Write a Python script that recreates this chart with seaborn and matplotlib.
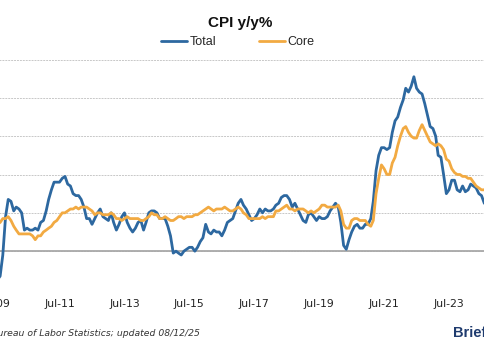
import pandas as pd
import matplotlib
matplotlib.use("Agg")
import matplotlib.pyplot as plt
import matplotlib.dates as mdates
from matplotlib.lines import Line2D
import seaborn as sns

# monthly CPI y/y %, Jul-2009 .. Jul-2025
start_month = "2009-07-01"
total = [
    -2.1, -1.5, -1.3, -0.2, 1.8, 2.7,                                   # 2009 H2
    2.6, 2.1, 2.3, 2.2, 2.0, 1.1, 1.2, 1.1, 1.1, 1.2, 1.1, 1.5,         # 2010
    1.6, 2.1, 2.7, 3.2, 3.6, 3.6, 3.6, 3.8, 3.9, 3.5, 3.4, 3.0,         # 2011
    2.9, 2.9, 2.7, 2.3, 1.7, 1.7, 1.4, 1.7, 2.0, 2.2, 1.8, 1.7,         # 2012
    1.6, 2.0, 1.5, 1.1, 1.4, 1.8, 2.0, 1.5, 1.2, 1.0, 1.2, 1.5,         # 2013
    1.6, 1.1, 1.5, 2.0, 2.1, 2.1, 2.0, 1.7, 1.7, 1.7, 1.3, 0.8,         # 2014
    -0.1, 0.0, -0.1, -0.2, 0.0, 0.1, 0.2, 0.2, 0.0, 0.2, 0.5, 0.7,      # 2015
    1.4, 1.0, 0.9, 1.1, 1.0, 1.0, 0.8, 1.1, 1.5, 1.6, 1.7, 2.1,         # 2016
    2.5, 2.7, 2.4, 2.2, 1.9, 1.6, 1.7, 1.9, 2.2, 2.0, 2.2, 2.1,         # 2017
    2.1, 2.2, 2.4, 2.5, 2.8, 2.9, 2.9, 2.7, 2.3, 2.5, 2.2, 1.9,         # 2018
    1.6, 1.5, 1.9, 2.0, 1.8, 1.6, 1.8, 1.7, 1.7, 1.8, 2.1, 2.3,         # 2019
    2.5, 2.3, 1.5, 0.3, 0.1, 0.6, 1.0, 1.3, 1.4, 1.2, 1.2, 1.4,         # 2020
    1.4, 1.7, 2.6, 4.2, 5.0, 5.4, 5.4, 5.3, 5.4, 6.2, 6.8, 7.0,         # 2021
    7.5, 7.9, 8.5, 8.3, 8.6, 9.1, 8.5, 8.3, 8.2, 7.7, 7.1, 6.5,         # 2022
    6.4, 6.0, 5.0, 4.9, 4.0, 3.0, 3.2, 3.7, 3.7, 3.2, 3.1, 3.4,         # 2023
    3.1, 3.2, 3.5, 3.4, 3.3, 3.0, 2.9, 2.5, 2.4, 2.6, 2.7, 2.9,         # 2024
    3.0, 2.8, 2.4, 2.3, 2.4, 2.7, 2.7,                                  # 2025
]
core = [
    1.5, 1.4, 1.5, 1.7, 1.7, 1.8,
    1.6, 1.3, 1.1, 0.9, 0.9, 0.9, 0.9, 0.9, 0.8, 0.6, 0.8, 0.8,
    1.0, 1.1, 1.2, 1.3, 1.5, 1.6, 1.8, 2.0, 2.0, 2.1, 2.2, 2.2,
    2.3, 2.2, 2.3, 2.3, 2.3, 2.2, 2.1, 1.9, 2.0, 2.0, 1.9, 1.9,
    1.9, 2.0, 1.9, 1.7, 1.7, 1.6, 1.7, 1.8, 1.7, 1.7, 1.7, 1.7,
    1.6, 1.6, 1.7, 1.8, 2.0, 1.9, 1.9, 1.7, 1.7, 1.8, 1.7, 1.6,
    1.6, 1.7, 1.8, 1.8, 1.7, 1.8, 1.8, 1.8, 1.9, 1.9, 2.0, 2.1,
    2.2, 2.3, 2.2, 2.1, 2.2, 2.2, 2.2, 2.3, 2.2, 2.1, 2.1, 2.2,
    2.3, 2.2, 2.0, 1.9, 1.7, 1.7, 1.7, 1.7, 1.7, 1.8, 1.7, 1.8,
    1.8, 1.8, 2.1, 2.1, 2.2, 2.3, 2.4, 2.2, 2.2, 2.1, 2.2, 2.2,
    2.2, 2.1, 2.0, 2.1, 2.0, 2.1, 2.2, 2.4, 2.4, 2.3, 2.3, 2.3,
    2.3, 2.4, 2.1, 1.4, 1.2, 1.2, 1.6, 1.7, 1.7, 1.6, 1.6, 1.6,
    1.4, 1.3, 1.6, 3.0, 3.8, 4.5, 4.3, 4.0, 4.0, 4.6, 4.9, 5.5,
    6.0, 6.4, 6.5, 6.2, 6.0, 5.9, 5.9, 6.3, 6.6, 6.3, 6.0, 5.7,
    5.6, 5.5, 5.6, 5.5, 5.3, 4.8, 4.7, 4.3, 4.1, 4.0, 4.0, 3.9,
    3.9, 3.8, 3.8, 3.6, 3.4, 3.3, 3.2, 3.2, 3.3, 3.3, 3.3, 3.2,
    3.3, 3.1, 2.8, 2.8, 2.8, 2.9, 3.1,
]
series_names = ["Total", "Core"]
BLUE = "#2d68a0"
ORANGE = "#f2aa42"

dates = pd.date_range(start_month, periods=len(total), freq="MS")
pdf_cpi = pd.DataFrame({"date": dates, "Total": total, "Core": core})
pdf_long = pdf_cpi.melt(id_vars="date", var_name="series", value_name="yoy")

sns.set_theme(style="white")
plt.rcParams["font.family"] = ["DejaVu Sans"]

W, H = 485, 360
f = plt.figure(figsize=(W / 100, H / 100), dpi=100)

# the reference is a crop of a wider chart: the axes run past both edges
ax_left_px, ax_right_px = -60, 560
ax = f.add_axes([ax_left_px / W, (H - 289.5) / H,
                 (ax_right_px - ax_left_px) / W, 230 / H])

sns.lineplot(data=pdf_long, x="date", y="yoy", hue="series",
             hue_order=series_names,
             palette={"Total": BLUE, "Core": ORANGE},
             linewidth=2.0, estimator=None, legend=False, ax=ax)

ref = pd.Timestamp("2011-07-01")
days_per_px = (pd.Timestamp("2023-07-01") - ref).days / (449 - 59.5)
ax.set_xlim(ref - pd.Timedelta(days=(59.5 - ax_left_px) * days_per_px),
            ref + pd.Timedelta(days=(ax_right_px - 59.5) * days_per_px))
ax.set_ylim(-2, 10)

ax.set_yticks(range(-2, 11, 2))
ax.yaxis.grid(True, color="#c8c8c8", linestyle=(0, (2, 1)), linewidth=0.7)
ax.axhline(0, color="#a8a8a8", linewidth=1.3, zorder=1)
ax.set_xticks(pd.date_range("2009-07-01", "2023-07-01", freq="24MS"))
ax.xaxis.set_major_formatter(mdates.DateFormatter("%b-%y"))
ax.tick_params(axis="x", length=0, pad=7, labelsize=7.8, labelcolor="#222222")
ax.tick_params(axis="y", length=0, labelleft=False)
ax.set_xlabel("")
ax.set_ylabel("")
for s in ax.spines.values():
    s.set_visible(False)

f.text(240 / W, 1 - 23 / H, "CPI y/y%", ha="center", va="center",
       fontsize=11, fontweight="bold", color="#111111", family="Liberation Sans")

handles = [Line2D([], [], color=BLUE, linewidth=2.0),
           Line2D([], [], color=ORANGE, linewidth=2.0)]
f.legend(handles, series_names, loc="center", bbox_to_anchor=(238 / W, 1 - 42 / H),
         ncol=2, frameon=False, handlelength=2.1, handletextpad=0.2,
         columnspacing=3.4, prop={"family": "Liberation Sans", "size": 9})

f.text(200 / W, 1 - 333 / H, "Source: Bureau of Labor Statistics; updated 08/12/25",
       ha="right", va="center", fontsize=6.7, style="italic", color="#333333")
f.text(453 / W, 1 - 333 / H, "Briefing.com", ha="left", va="center",
       fontsize=10.5, fontweight="bold", color="#1f3b6e", family="Liberation Sans")

f.savefig("out.png", dpi=100)
